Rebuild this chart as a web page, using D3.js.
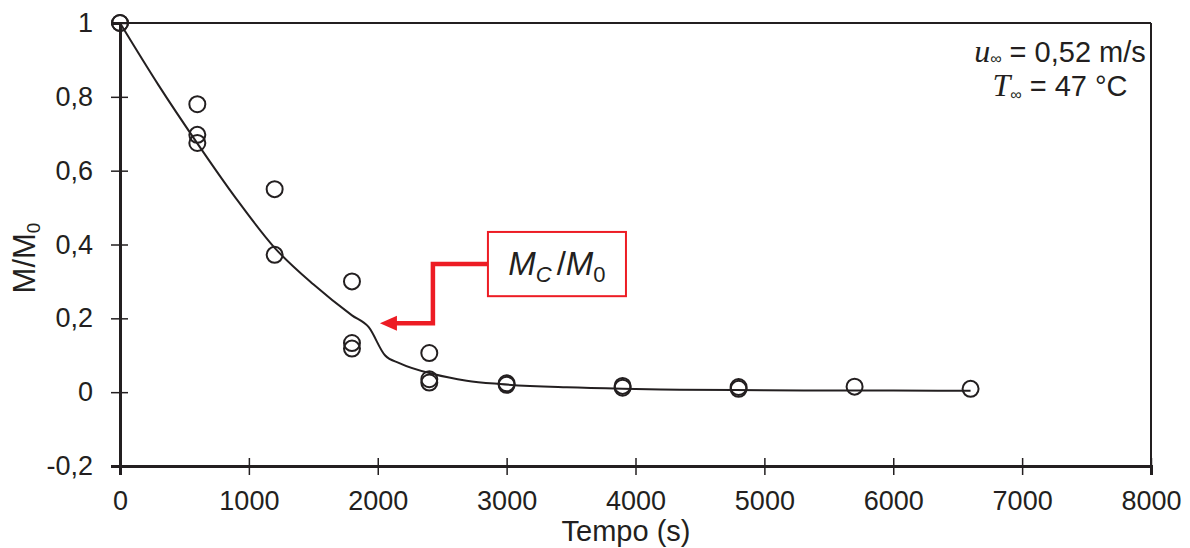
<!DOCTYPE html>
<html>
<head>
<meta charset="utf-8">
<script src="https://cdn.jsdelivr.net/npm/d3@7"></script>
<style>
  body { margin: 0; background: #fff; }
  svg text { font-family: "Liberation Sans", Arial, sans-serif; fill: #231f20; }
</style>
</head>
<body>
<div id="chart"></div>
<script>
// measured points (time in s, M/M0)
var tempo = [0, 0, 600, 600, 600, 1200, 1200, 1800, 1800, 1800, 2400, 2400, 2400,
             3000, 3000, 3900, 3900, 4800, 4800, 5700, 6600];
var razao = [1.0, 1.0, 0.78, 0.697, 0.675, 0.55, 0.372, 0.30, 0.133, 0.118, 0.106, 0.035, 0.026,
             0.024, 0.02, 0.017, 0.012, 0.014, 0.009, 0.015, 0.009];

// model curve
var modelT = [0, 300, 600, 900, 1200, 1500, 1800, 1930, 2056, 2172, 2431, 2690, 2948, 3466, 3900, 4345, 5000, 6000, 6600];
var modelM = [1.0, 0.831, 0.674, 0.525, 0.391, 0.292, 0.208, 0.176, 0.10, 0.078, 0.049, 0.031, 0.022, 0.013, 0.009, 0.0068, 0.0052, 0.0042, 0.004];

var xTicks = [0, 1000, 2000, 3000, 4000, 5000, 6000, 7000, 8000];
var yTicks = [-0.2, 0, 0.2, 0.4, 0.6, 0.8, 1];
var yTickLabels = ["-0,2", "0", "0,2", "0,4", "0,6", "0,8", "1"];

var W = 1190, H = 548;
var ink = "#231f20";

var svg = d3.select("#chart").append("svg")
  .attr("width", W).attr("height", H);

var x = d3.scaleLinear().domain([0, 8000]).range([120, 1151]);
var y = d3.scaleLinear().domain([-0.2, 1]).range([466, 23]);

// frame: top and right
svg.append("line")
  .attr("x1", x(0)).attr("x2", x(8000)).attr("y1", y(1)).attr("y2", y(1))
  .attr("stroke", ink).attr("stroke-width", 2);
svg.append("line")
  .attr("x1", x(8000)).attr("x2", x(8000)).attr("y1", y(1)).attr("y2", y(-0.2))
  .attr("stroke", ink).attr("stroke-width", 2);

// x axis
var gx = svg.append("g")
  .attr("transform", "translate(0," + y(-0.2) + ")")
  .call(d3.axisBottom(x).tickValues(xTicks).tickFormat(d3.format("d"))
    .tickSizeOuter(0).tickSize(9).tickPadding(16));
gx.select(".domain").attr("stroke", ink).attr("stroke-width", 3);
gx.selectAll(".tick line").attr("y1", -8).attr("stroke", ink).attr("stroke-width", 1.5);
gx.selectAll(".tick text").attr("font-size", 27).attr("font-family", "Liberation Sans").attr("fill", ink);

// y axis
var gy = svg.append("g")
  .attr("transform", "translate(" + x(0) + ",0)")
  .call(d3.axisLeft(y).tickValues(yTicks).tickSizeOuter(0).tickSize(9).tickPadding(18)
    .tickFormat(function(d, i) { return yTickLabels[i]; }));
gy.select(".domain").attr("stroke", ink).attr("stroke-width", 3);
gy.selectAll(".tick line").attr("x1", 8).attr("stroke", ink).attr("stroke-width", 1.5);
gy.selectAll(".tick text").attr("font-size", 27).attr("font-family", "Liberation Sans").attr("fill", ink);

// axis titles
svg.append("text")
  .attr("x", 626).attr("y", 541)
  .attr("text-anchor", "middle").attr("font-size", 29)
  .text("Tempo (s)");

var yl = svg.append("text")
  .attr("transform", "translate(35,258) rotate(-90)")
  .attr("text-anchor", "middle").attr("font-size", 31);
yl.append("tspan").text("M/M");
yl.append("tspan").attr("font-size", 19).attr("dy", 5).text("0");

// model line
var model = modelT.map(function(t, i) { return [t, modelM[i]]; });
svg.append("path")
  .datum(model)
  .attr("fill", "none").attr("stroke", ink).attr("stroke-width", 2)
  .attr("d", d3.line()
    .x(function(d) { return x(d[0]); })
    .y(function(d) { return y(d[1]); })
    .curve(d3.curveMonotoneX));

// measured circles
svg.selectAll("circle.pt")
  .data(tempo)
  .enter().append("circle")
  .attr("class", "pt")
  .attr("cx", function(d) { return x(d); })
  .attr("cy", function(d, i) { return y(razao[i]); })
  .attr("r", 8)
  .attr("fill", "none").attr("stroke", ink).attr("stroke-width", 2);

// annotation Mc/M0
var red = "#ed1c24";
var boxT0 = 2855, boxT1 = 3926, boxM0 = 0.26, boxM1 = 0.434;
var elbowT = 2428, tipT = 2017, tipM = 0.187;
var midM = (boxM0 + boxM1) / 2;

svg.append("rect")
  .attr("x", x(boxT0)).attr("y", y(boxM1))
  .attr("width", x(boxT1) - x(boxT0)).attr("height", y(boxM0) - y(boxM1))
  .attr("fill", "#fff").attr("stroke", red).attr("stroke-width", 2);

svg.append("path")
  .attr("d", "M" + x(boxT0) + "," + y(midM) +
             "H" + x(elbowT) + "V" + y(tipM) + "H" + (x(tipT) + 14))
  .attr("fill", "none").attr("stroke", red).attr("stroke-width", 4.5);

svg.append("path")
  .attr("d", "M" + x(tipT) + "," + y(tipM) +
             "L" + (x(tipT) + 17) + "," + (y(tipM) - 7.5) +
             "L" + (x(tipT) + 17) + "," + (y(tipM) + 7.5) + "Z")
  .attr("fill", red);

var mt = svg.append("text")
  .attr("x", (x(boxT0) + x(boxT1)) / 2).attr("y", y(midM) + 11)
  .attr("text-anchor", "middle")
  .attr("font-family", "Liberation Serif").attr("font-size", 33);
mt.append("tspan").attr("font-style", "italic").text("M");
mt.append("tspan").attr("font-style", "italic").attr("font-size", 22).attr("dy", 7).text("C");
mt.append("tspan").attr("dy", -7).attr("dx", 5).text("/");
mt.append("tspan").attr("font-style", "italic").text("M");
mt.append("tspan").attr("font-size", 22).attr("dy", 7).text("0");

// conditions text
var c1 = svg.append("text")
  .attr("x", 1060).attr("y", 62).attr("text-anchor", "middle").attr("font-size", 29);
c1.append("tspan").attr("font-family", "Liberation Serif").attr("font-style", "italic").attr("font-size", 32).text("u");
c1.append("tspan").attr("font-size", 16).attr("dy", 2).text("∞");
c1.append("tspan").attr("dy", -2).text(" = 0,52 m/s");

var c2 = svg.append("text")
  .attr("x", 1060).attr("y", 96).attr("text-anchor", "middle").attr("font-size", 29);
c2.append("tspan").attr("font-family", "Liberation Serif").attr("font-style", "italic").attr("font-size", 32).text("T");
c2.append("tspan").attr("font-size", 16).attr("dy", 4).text("∞");
c2.append("tspan").attr("dy", -4).text(" = 47 °C");
</script>
</body>
</html>
